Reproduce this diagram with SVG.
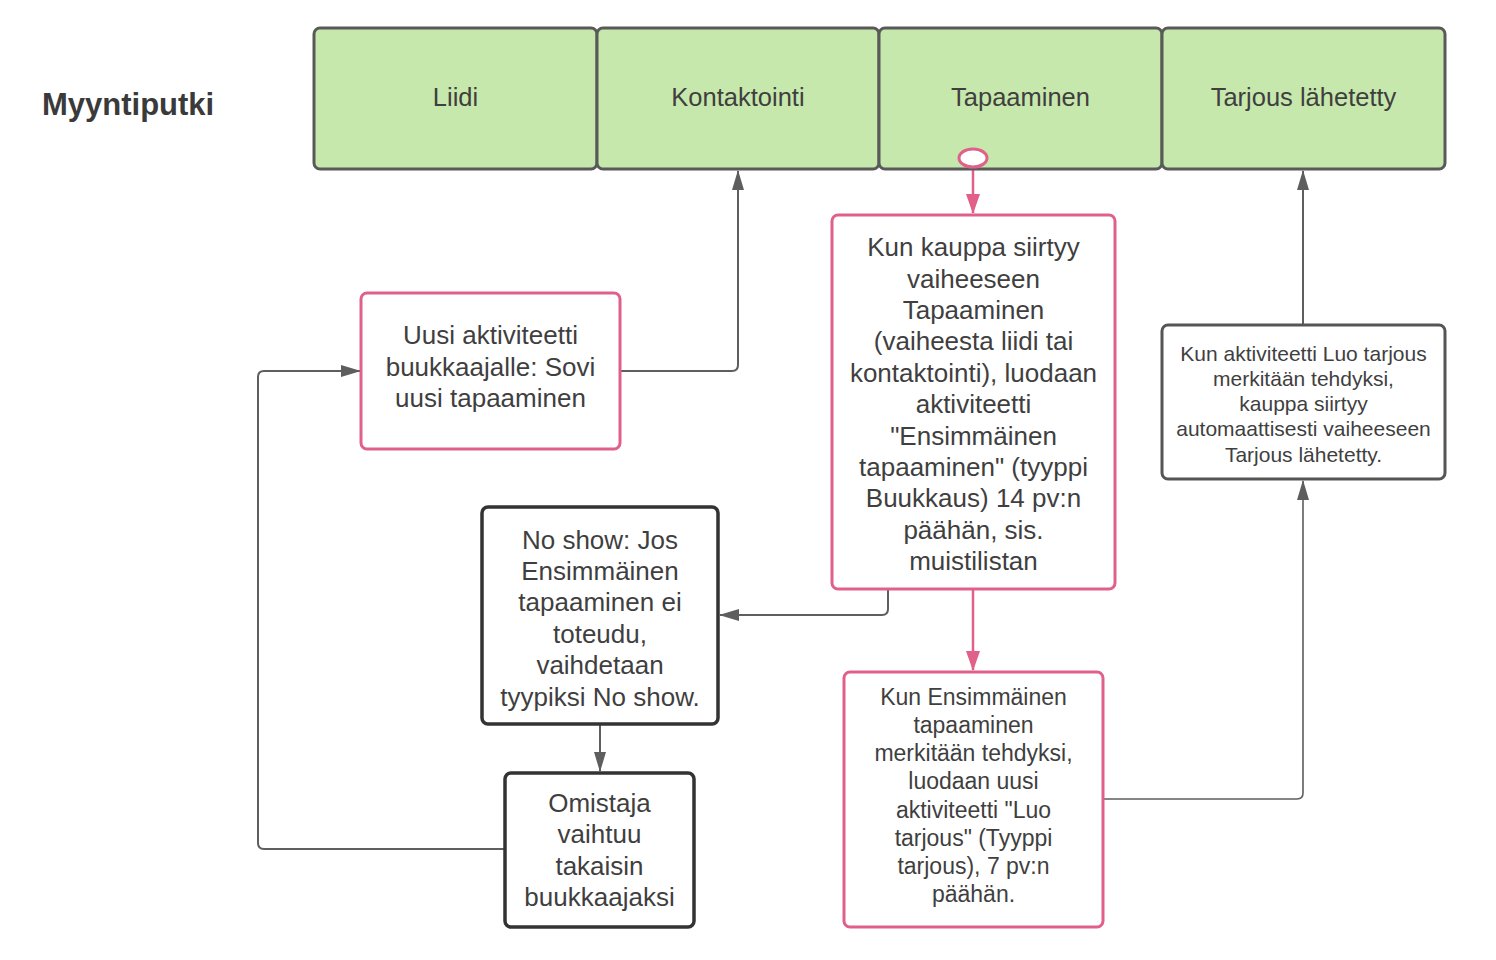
<svg xmlns="http://www.w3.org/2000/svg" width="1496" height="960" viewBox="0 0 1496 960">
<style>
text{font-family:"Liberation Sans",Arial,sans-serif;fill:#3f3f3f;text-anchor:middle}
.stage{fill:#c7e8ac;stroke:#595959;stroke-width:3}
.pink{fill:#fff;stroke:#e0608a;stroke-width:3}
.dark{fill:#fff;stroke:#333;stroke-width:3.5}
.grey{fill:#fff;stroke:#555;stroke-width:3}
.l26{font-size:26px}
.l23{font-size:23px}
.l21{font-size:21px}
.lbl{font-size:25.5px}
.c{fill:none;stroke:#5e5e5e;stroke-width:2}
.cp{fill:none;stroke:#e0608a;stroke-width:2.5}
</style>
<defs>
<marker id="ag" markerUnits="userSpaceOnUse" markerWidth="20" markerHeight="14" viewBox="0 0 20 14" refX="19" refY="7" orient="auto"><path d="M0,1 L20,7 L0,13 Z" fill="#5e5e5e"/></marker>
<marker id="ap" markerUnits="userSpaceOnUse" markerWidth="20" markerHeight="16" viewBox="0 0 20 16" refX="19" refY="8" orient="auto"><path d="M0,1 L20,8 L0,15 Z" fill="#e0608a"/></marker>
</defs>
<rect width="1496" height="960" fill="#fff"/>
<text x="42" y="115" style="font-size:31px;font-weight:bold;text-anchor:start;fill:#3a3a3a">Myyntiputki</text>

<g id="connectors">
<path class="c" d="M620,371 H732 Q738,371 738,365 V171" marker-end="url(#ag)"/>
<path class="cp" d="M973,167 V213" marker-end="url(#ap)"/>
<path class="c" d="M888,589 V609 Q888,615 882,615 H720" marker-end="url(#ag)"/>
<path class="c" d="M600,724 V771" marker-end="url(#ag)"/>
<path class="c" d="M505,849 H264 Q258,849 258,843 V377 Q258,371 264,371 H360" marker-end="url(#ag)"/>
<path class="cp" d="M973,589 V670" marker-end="url(#ap)"/>
<path class="c" style="stroke-width:1.6" d="M1103,799 H1297 Q1303,799 1303,793 V481" marker-end="url(#ag)"/>
<path class="c" d="M1303,325 V171" marker-end="url(#ag)"/>
</g>

<g id="liidi"><rect class="stage" x="314" y="28" width="283" height="141" rx="6"/><text class="lbl" x="455.5" y="106">Liidi</text></g>
<g id="kontaktointi"><rect class="stage" x="597" y="28" width="282" height="141" rx="6"/><text class="lbl" x="738" y="106">Kontaktointi</text></g>
<g id="tapaaminen"><rect class="stage" x="879" y="28" width="283" height="141" rx="6"/><text class="lbl" x="1020.5" y="106">Tapaaminen</text></g>
<g id="tarjous"><rect class="stage" x="1162" y="28" width="283" height="141" rx="6"/><text class="lbl" x="1303.5" y="106">Tarjous lähetetty</text></g>

<g id="start"><ellipse cx="973" cy="158" rx="14" ry="9" fill="#fff" stroke="#e0608a" stroke-width="3"/></g>

<g id="nodeA">
<rect class="pink" x="832" y="215" width="283" height="374" rx="6"/>
<text class="l26" x="973.5" y="256">Kun kauppa siirtyy</text>
<text class="l26" x="973.5" y="287.5">vaiheeseen</text>
<text class="l26" x="973.5" y="319">Tapaaminen</text>
<text class="l26" x="973.5" y="350">(vaiheesta liidi tai</text>
<text class="l26" x="973.5" y="382">kontaktointi), luodaan</text>
<text class="l26" x="973.5" y="413">aktiviteetti</text>
<text class="l26" x="973.5" y="445">"Ensimmäinen</text>
<text class="l26" x="973.5" y="476">tapaaminen" (tyyppi</text>
<text class="l26" x="973.5" y="507">Buukkaus) 14 pv:n</text>
<text class="l26" x="973.5" y="539">päähän, sis.</text>
<text class="l26" x="973.5" y="570">muistilistan</text>
</g>

<g id="nodeB">
<rect class="pink" x="361" y="293" width="259" height="156" rx="6"/>
<text class="l26" x="490.5" y="344">Uusi aktiviteetti</text>
<text class="l26" x="490.5" y="376">buukkaajalle: Sovi</text>
<text class="l26" x="490.5" y="407">uusi tapaaminen</text>
</g>

<g id="nodeC">
<rect class="dark" x="482" y="507" width="236" height="217" rx="6"/>
<text class="l26" x="600" y="549">No show: Jos</text>
<text class="l26" x="600" y="580">Ensimmäinen</text>
<text class="l26" x="600" y="611">tapaaminen ei</text>
<text class="l26" x="600" y="643">toteudu,</text>
<text class="l26" x="600" y="674">vaihdetaan</text>
<text class="l26" x="600" y="706">tyypiksi No show.</text>
</g>

<g id="nodeD">
<rect class="dark" x="505" y="773" width="189" height="154" rx="6"/>
<text class="l26" x="599.5" y="812">Omistaja</text>
<text class="l26" x="599.5" y="843">vaihtuu</text>
<text class="l26" x="599.5" y="875">takaisin</text>
<text class="l26" x="599.5" y="906">buukkaajaksi</text>
</g>

<g id="nodeE">
<rect class="pink" x="844" y="672" width="259" height="255" rx="6"/>
<text class="l23" x="973.5" y="705">Kun Ensimmäinen</text>
<text class="l23" x="973.5" y="733">tapaaminen</text>
<text class="l23" x="973.5" y="761">merkitään tehdyksi,</text>
<text class="l23" x="973.5" y="789">luodaan uusi</text>
<text class="l23" x="973.5" y="818">aktiviteetti "Luo</text>
<text class="l23" x="973.5" y="846">tarjous" (Tyyppi</text>
<text class="l23" x="973.5" y="874">tarjous), 7 pv:n</text>
<text class="l23" x="973.5" y="902">päähän.</text>
</g>

<g id="nodeF">
<rect class="grey" x="1162" y="325" width="283" height="154" rx="6"/>
<text class="l21" x="1303.5" y="360.5">Kun aktiviteetti Luo tarjous</text>
<text class="l21" x="1303.5" y="385.5">merkitään tehdyksi,</text>
<text class="l21" x="1303.5" y="410.5">kauppa siirtyy</text>
<text class="l21" x="1303.5" y="435.5">automaattisesti vaiheeseen</text>
<text class="l21" x="1303.5" y="461.5">Tarjous lähetetty.</text>
</g>
</svg>
